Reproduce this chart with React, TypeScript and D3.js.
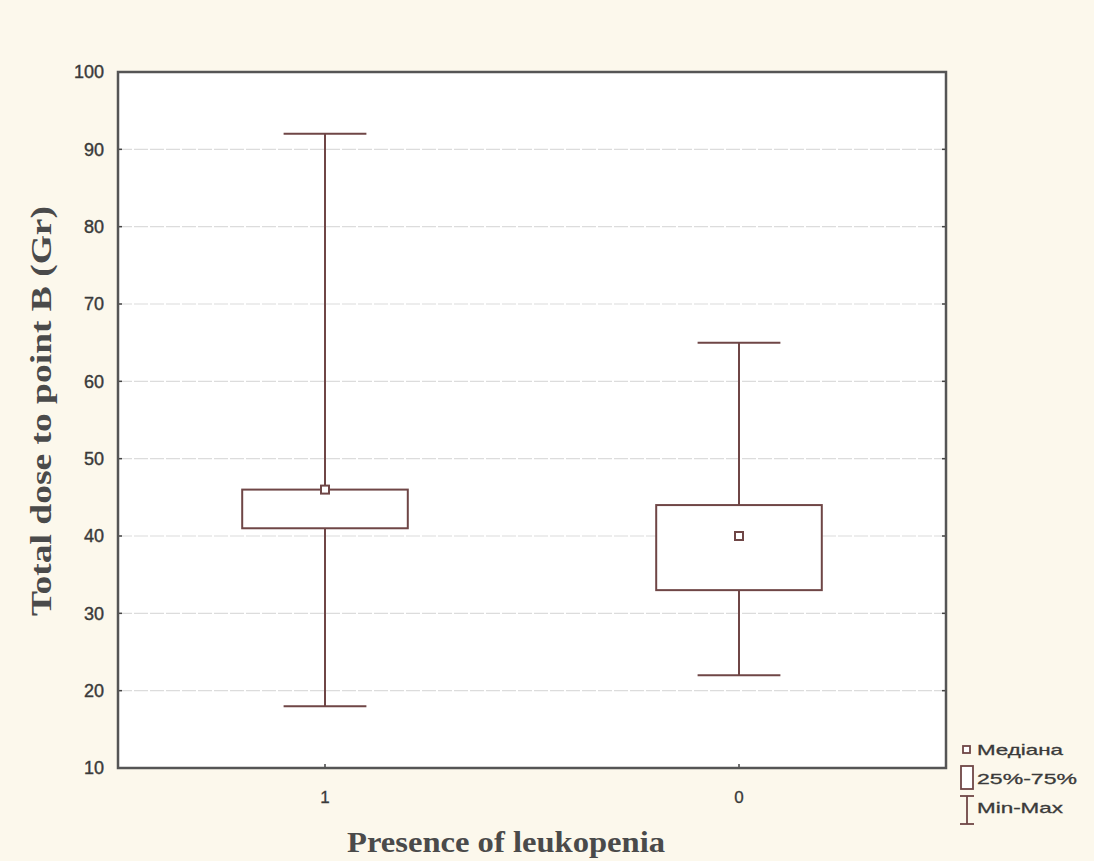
import React from "react";
import * as d3 from "d3";

const categories = ["1", "0"];
const mins = [18, 22];
const q1s = [41, 33];
const medians = [46, 40];
const q3s = [46, 44];
const maxs = [92, 65];
const yTicks = [10, 20, 30, 40, 50, 60, 70, 80, 90, 100];
const legendLabels = ["Медіана", "25%-75%", "Min-Max"];
const xTitle = "Presence of leukopenia";
const yTitle = "Total dose to point B (Gr)";

const W = 1094;
const H = 861;
const L = 118, R = 946, T = 72, B = 768;
const BOX_COLOR = "#6f4646";
const BG = "#fcf8ec";

export default function App() {
  const x = d3.scaleBand<string>().domain(categories).range([L, R]).padding(0);
  const y = d3.scaleLinear().domain([10, 100]).range([B, T]);
  const bw = x.bandwidth() * 0.4;
  const cw = bw / 2;
  const data = categories.map((c, i) => ({
    c, min: mins[i], q1: q1s[i], med: medians[i], q3: q3s[i], max: maxs[i],
  }));
  return (
    <div style={{ position: "fixed", left: 0, top: 0 }}>
      <svg width={W} height={H} style={{ display: "block" }}>
        <rect x={0} y={0} width={W} height={H} fill={BG} />
        <rect x={L} y={T} width={R - L} height={B - T} fill="#ffffff" />
        {/* grid */}
        {yTicks.filter((t) => t > 10 && t < 100).map((t) => (
          <line key={"g" + t} x1={L} x2={R} y1={y(t)} y2={y(t)} stroke="#dcdcdc" strokeWidth={1.2} strokeDasharray="14 2" />
        ))}
        {/* tick marks */}
        {yTicks.map((t) => (
          <g key={"t" + t}>
            <line x1={L} x2={L + 4} y1={y(t)} y2={y(t)} stroke="#444" strokeWidth={1.5} />
            <line x1={R - 4} x2={R} y1={y(t)} y2={y(t)} stroke="#444" strokeWidth={1.5} />
            <text x={104} y={y(t)} dy="0.36em" textAnchor="end" fontFamily="Liberation Sans, Arial, sans-serif" fontSize={18} fill="#3a3a3a" stroke="#3a3a3a" strokeWidth={0.4}>{t}</text>
          </g>
        ))}
        {categories.map((c) => {
          const cx = (x(c) as number) + x.bandwidth() / 2;
          return (
            <g key={"xt" + c}>
              <line x1={cx} x2={cx} y1={B} y2={B - 4} stroke="#444" strokeWidth={1.5} />
              <text x={cx} y={797} dy="0.36em" textAnchor="middle" fontFamily="Liberation Sans, Arial, sans-serif" fontSize={17} fill="#3a3a3a" stroke="#3a3a3a" strokeWidth={0.3}>{c}</text>
            </g>
          );
        })}
        {/* boxes */}
        {data.map((d) => {
          const cx = (x(d.c) as number) + x.bandwidth() / 2;
          return (
            <g key={"b" + d.c} stroke={BOX_COLOR} strokeWidth={2} fill="none">
              <line x1={cx} x2={cx} y1={y(d.max)} y2={y(d.q3)} />
              <line x1={cx} x2={cx} y1={y(d.q1)} y2={y(d.min)} />
              <line x1={cx - cw / 2} x2={cx + cw / 2} y1={y(d.max)} y2={y(d.max)} />
              <line x1={cx - cw / 2} x2={cx + cw / 2} y1={y(d.min)} y2={y(d.min)} />
              <rect x={cx - bw / 2} y={y(d.q3)} width={bw} height={y(d.q1) - y(d.q3)} fill="#ffffff" />
              <rect x={cx - 4} y={y(d.med) - 4} width={8} height={8} fill="#ffffff" />
            </g>
          );
        })}
        {/* frame */}
        <rect x={L} y={T} width={R - L} height={B - T} fill="none" stroke="#555" strokeWidth={2.5} />
        {/* axis titles */}
        <text x={506} y={852} textAnchor="middle" fontFamily="Liberation Serif, 'DejaVu Serif', serif" fontWeight="bold" fontSize={30} fill="#4a4a4a" textLength={318} lengthAdjust="spacingAndGlyphs">{xTitle}</text>
        <text transform={`translate(51,411) rotate(-90)`} textAnchor="middle" fontFamily="Liberation Serif, 'DejaVu Serif', serif" fontWeight="bold" fontSize={30} fill="#4a4a4a" textLength={410} lengthAdjust="spacingAndGlyphs">{yTitle}</text>
        {/* legend */}
        <g stroke={BOX_COLOR} strokeWidth={1.8} fill="#ffffff">
          <rect x={963} y={746} width={7} height={7} />
          <rect x={961} y={766} width={12} height={23} />
          <line x1={967} x2={967} y1={796} y2={824} />
          <line x1={960} x2={974} y1={796} y2={796} />
          <line x1={960} x2={974} y1={824} y2={824} />
        </g>
        {legendLabels.map((s, i) => (
          <text key={s} x={977} y={[750, 779, 808][i]} dy="0.36em" fontFamily="Liberation Sans, Arial, sans-serif" fontSize={15} fill="#3a3a3a" stroke="#3a3a3a" strokeWidth={0.3} textLength={[86, 100, 86][i]} lengthAdjust="spacingAndGlyphs">{s}</text>
        ))}
      </svg>
    </div>
  );
}
